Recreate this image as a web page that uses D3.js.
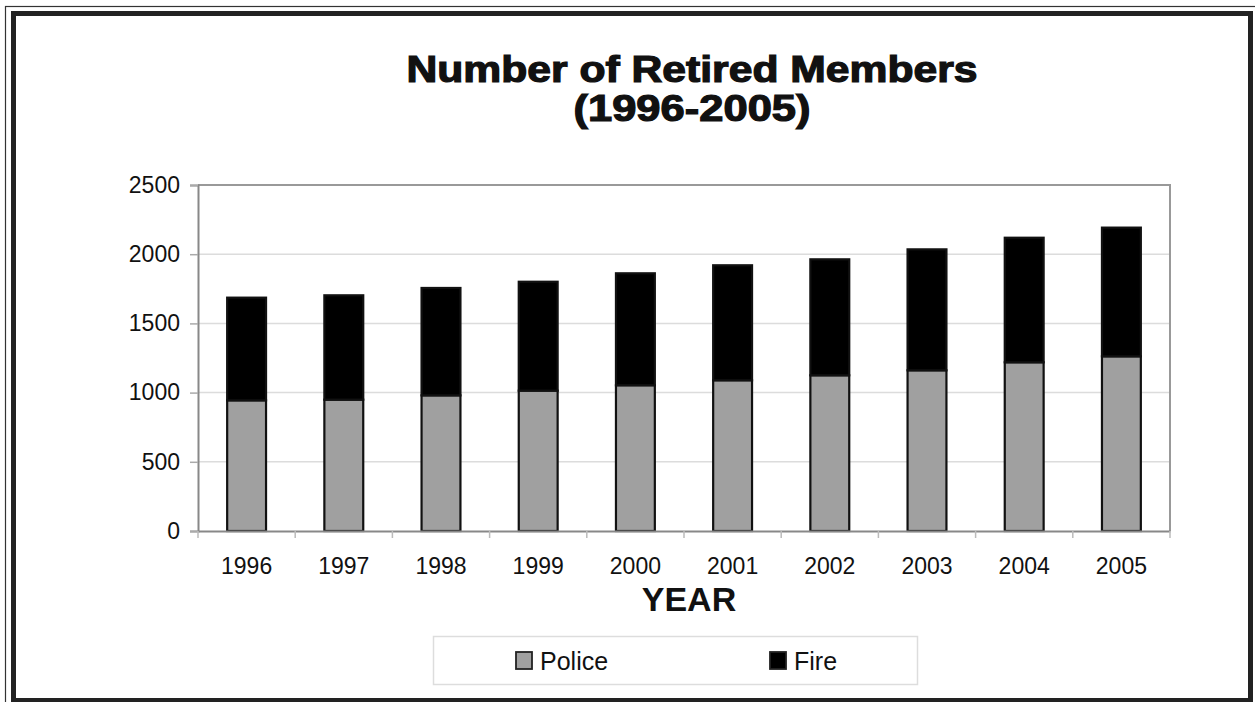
<!DOCTYPE html>
<html>
<head>
<meta charset="utf-8">
<script src="https://cdn.jsdelivr.net/npm/d3@7"></script>
<style>
  html, body { margin: 0; padding: 0; background: #fff; }
  svg { display: block; }
  text { font-family: "Liberation Sans", Arial, sans-serif; }
</style>
</head>
<body>
<svg id="chart" width="1255" height="702"></svg>
<script>
const years = ["1996","1997","1998","1999","2000","2001","2002","2003","2004","2005"];
const police = [944, 949, 980, 1014, 1053, 1089, 1125, 1161, 1219, 1262];
const fire = [742, 754, 776, 787, 809, 831, 838, 874, 900, 930];
const yTicks = [0, 500, 1000, 1500, 2000, 2500];
const seriesNames = ["Police", "Fire"];
const seriesColors = ["#a0a0a0", "#000000"];
const titleLines = ["Number of Retired Members", "(1996-2005)"];
const xTitle = "YEAR";

(function () {
const svg = d3.select("#chart");

// frame
svg.append("rect").attr("x", 5.5).attr("y", 6.5).attr("width", 1260).attr("height", 700)
  .attr("fill", "none").attr("stroke", "#333").attr("stroke-width", 1.2);
svg.append("rect").attr("x", 13.5).attr("y", 13.5).attr("width", 1237).attr("height", 687)
  .attr("fill", "none").attr("stroke", "#222").attr("stroke-width", 5);

// title
const titleLens = [571, 237];
const titleY = [82, 121];
titleLines.forEach((t, i) => {
  svg.append("text")
    .attr("x", 692).attr("y", titleY[i])
    .attr("text-anchor", "middle")
    .attr("font-size", 36).attr("font-weight", "bold")
    .attr("fill", "#111").attr("stroke", "#111").attr("stroke-width", 1.2)
    .attr("textLength", titleLens[i]).attr("lengthAdjust", "spacingAndGlyphs")
    .text(t);
});

const pLeft = 198, pRight = 1170, pTop = 185, pBottom = 531;

const x = d3.scaleBand().domain(years).range([pLeft, pRight]).paddingInner(0.6).paddingOuter(0.3);
const y = d3.scaleLinear().domain([0, 2500]).range([pBottom, pTop]);

// gridlines
svg.append("g").selectAll("line").data(yTicks.filter(d => d > 0 && d < 2500)).join("line")
  .attr("x1", pLeft).attr("x2", pRight)
  .attr("y1", d => y(d)).attr("y2", d => y(d))
  .attr("stroke", "#dcdcdc").attr("stroke-width", 1.5);

// plot border (top, right)
svg.append("path")
  .attr("d", `M${pLeft},${pTop}H${pRight}V${pBottom}`)
  .attr("fill", "none").attr("stroke", "#999").attr("stroke-width", 2);

// stacked bars
const stackData = years.map((yr, i) => ({ year: yr, Police: police[i], Fire: fire[i] }));
const stack = d3.stack().keys(seriesNames)(stackData);
stack.forEach((layer, li) => {
  svg.append("g").selectAll("rect").data(layer).join("rect")
    .attr("x", d => x(d.data.year))
    .attr("width", x.bandwidth())
    .attr("y", d => y(d[1]))
    .attr("height", d => y(d[0]) - y(d[1]))
    .attr("fill", seriesColors[li])
    .attr("stroke", "#111").attr("stroke-width", 2.2);
});

// y axis
const yAxis = d3.axisLeft(y).tickValues(yTicks).tickFormat(d3.format("d")).tickSize(8).tickPadding(10);
const gy = svg.append("g").attr("transform", `translate(${pLeft},0)`).call(yAxis);
gy.select(".domain").attr("stroke", "#888").attr("stroke-width", 2);
gy.selectAll(".tick line").attr("stroke", "#aaa").attr("stroke-width", 1.5);
gy.selectAll(".tick text").attr("font-size", 23).attr("fill", "#111")
  .attr("font-family", "Liberation Sans, Arial, sans-serif");

// x axis
const xAxis = d3.axisBottom(x).tickSize(0).tickPadding(27);
const gx = svg.append("g").attr("transform", `translate(0,${pBottom})`).call(xAxis);
gx.select(".domain").attr("stroke", "#888").attr("stroke-width", 2);
gx.selectAll(".tick text").attr("font-size", 23).attr("fill", "#111")
  .attr("font-family", "Liberation Sans, Arial, sans-serif");
// category boundary tick marks
const step = x.step();
svg.append("g").selectAll("line").data(d3.range(years.length + 1)).join("line")
  .attr("x1", i => pLeft + i * step).attr("x2", i => pLeft + i * step)
  .attr("y1", pBottom).attr("y2", pBottom + 7)
  .attr("stroke", "#bbb").attr("stroke-width", 1.5);

// x title
svg.append("text").attr("x", 689).attr("y", 611)
  .attr("text-anchor", "middle").attr("font-size", 34).attr("font-weight", "bold")
  .attr("fill", "#111").text(xTitle);

// legend
svg.append("rect").attr("x", 433.5).attr("y", 636.5).attr("width", 484).attr("height", 48)
  .attr("fill", "#fff").attr("stroke", "#ddd").attr("stroke-width", 1.5);
const legX = [516, 770];
seriesNames.forEach((n, i) => {
  svg.append("rect").attr("x", legX[i]).attr("y", 652).attr("width", 16).attr("height", 17)
    .attr("fill", seriesColors[i]).attr("stroke", "#222").attr("stroke-width", 1.8);
  svg.append("text").attr("x", legX[i] + 24).attr("y", 670)
    .attr("font-size", 25).attr("fill", "#111").text(n);
});
})();
</script>
</body>
</html>
